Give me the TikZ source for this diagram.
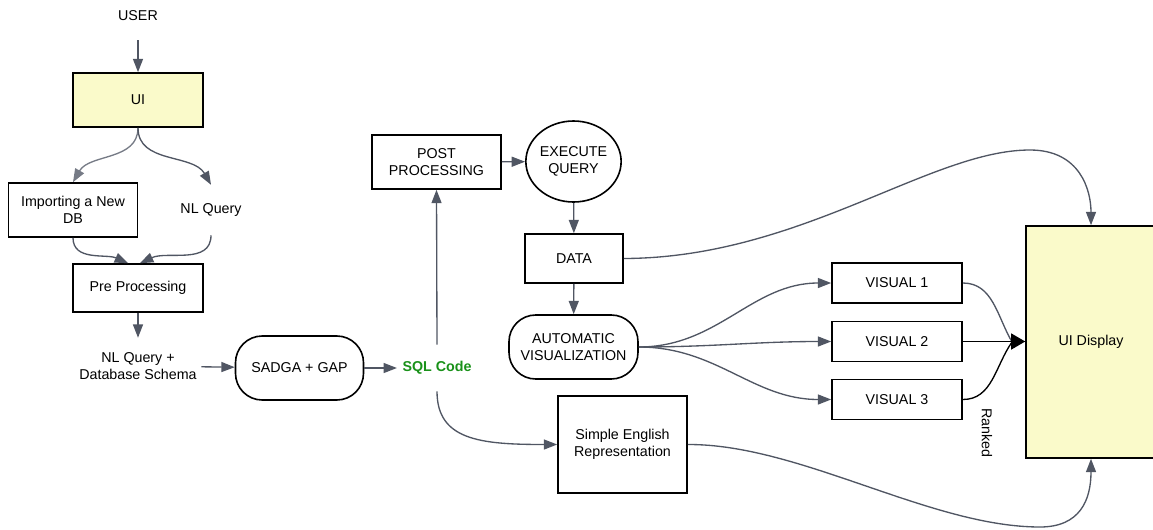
\documentclass[tikz,border=0pt]{standalone}
\usepackage{fontspec}
\setmainfont{Liberation Sans}
\usetikzlibrary{arrows.meta,shapes.geometric}

\definecolor{uiyellow}{RGB}{250,250,202}
\definecolor{linegray}{RGB}{80,86,99}
\definecolor{lightline}{RGB}{118,123,134}
\definecolor{sqlgreen}{RGB}{25,145,25}

\tikzset{
	box/.style={draw=black, line width=1.2pt, align=center, inner sep=2pt},
	pill/.style={box, rounded corners=20pt},
	plain/.style={align=center},
	arr/.style={draw=linegray, line width=1pt, -{Triangle[length=10pt,width=7.5pt]}},
	bigarr/.style={draw=black, line width=1pt, -{Triangle[length=10.5pt,width=12pt]}},
}

\begin{document}
\begin{tikzpicture}[x=0.75pt,y=-0.75pt,font=\fontsize{10.7}{13}\selectfont]
	\useasboundingbox (0,0) rectangle (1153,529);

	% left column
	\node[plain, minimum height=36pt] (user) at (138,16) {USER};
	\node[box, fill=uiyellow, minimum width=97.5pt, minimum height=40.5pt] (ui) at (138,100) {UI};
	\node[box, minimum width=96.75pt, minimum height=40.5pt] (import) at (73,210) {Importing a New\\DB};
	\node[plain, minimum height=37.5pt] (nlq) at (211,210) {NL Query};
	\node[box, minimum width=97.5pt, minimum height=36pt] (pre) at (138,288) {Pre Processing};
	\node[plain, minimum height=42pt] (schema) at (138,366) {NL Query +\\Database Schema};

	% model and sql
	\node[pill, minimum width=96pt, minimum height=48pt] (sadga) at (299.5,368) {SADGA + GAP};
	\node[plain, inner sep=4pt, minimum height=34.5pt, text=sqlgreen, font=\fontsize{10.7}{13}\selectfont\bfseries] (sql) at (437,368) {SQL Code};
	\node[box, minimum width=96.75pt, minimum height=40.5pt] (post) at (436.5,162) {POST\\PROCESSING};
	\node[box, ellipse, inner sep=0pt, minimum width=66.75pt, minimum height=60.75pt] (exec) at (573.5,161.5) {EXECUTE\\QUERY};
	\node[box, minimum width=73.5pt, minimum height=36.75pt] (data) at (574,258.5) {DATA};
	\node[pill, minimum width=96.75pt, minimum height=48pt] (auto) at (573.5,347) {AUTOMATIC\\VISUALIZATION};
	\node[box, minimum width=96.75pt, minimum height=72.75pt] (simple) at (622.5,444.5) {Simple English\\Representation};

	% visuals and display
	\foreach \i/\y in {1/283,2/341.5,3/399.5}
		\node[box, minimum width=97.5pt, minimum height=30pt] (v\i) at (897,\y) {VISUAL \i};
	\node[box, fill=uiyellow, minimum width=97.5pt, minimum height=174pt] (disp) at (1091,342) {UI Display};
	\node[plain, rotate=-90] (ranked) at (987,433) {Ranked};
	\coordinate (tipbase) at (1012,342);

	% connectors
	\draw[arr] (user) -- (ui);
	\draw[arr, draw=lightline] (ui.south) to[out=-90,in=60] (import.north);
	\draw[arr] (ui.south) to[out=-90,in=120] (nlq.north);
	\draw[arr] (import.south) to[out=-90,in=156] ([xshift=-7.5pt]pre.north);
	\draw[arr] (nlq.south) to[out=-90,in=25] ([xshift=1.5pt]pre.north);
	\draw[arr] (pre) -- (schema);
	\draw[arr] (schema) -- (sadga);
	\draw[arr] (sadga) -- (sql);
	\draw[arr] (sql.north) -- (post.south);
	\draw[arr] (post) -- (exec);
	\draw[arr] (exec) -- (data);
	\draw[arr] (data) -- (auto);
	\draw[arr] (sql.south) .. controls (437,440) and (480,444.5) .. (simple.west);
	\foreach \i in {1,2,3}
		\draw[arr] (auto.east) to[out=0,in=180] (v\i.west);
	\draw[draw=linegray, line width=1pt] (v1.east) to[out=0,in=120] (tipbase);
	\draw[draw=black, line width=1pt] (v3.east) to[out=0,in=235] (tipbase);
	\draw[bigarr] (v2.east) -- (v2.east -| disp.west);
	\draw[arr] (data.east) .. controls (800,258) and (930,150) .. (1030,150) .. controls (1080,150) and (1091,190) .. (disp.north);
	\draw[arr] (simple.east) .. controls (800,444) and (930,527) .. (1040,527) .. controls (1080,527) and (1091,500) .. (disp.south);
\end{tikzpicture}
\end{document}
